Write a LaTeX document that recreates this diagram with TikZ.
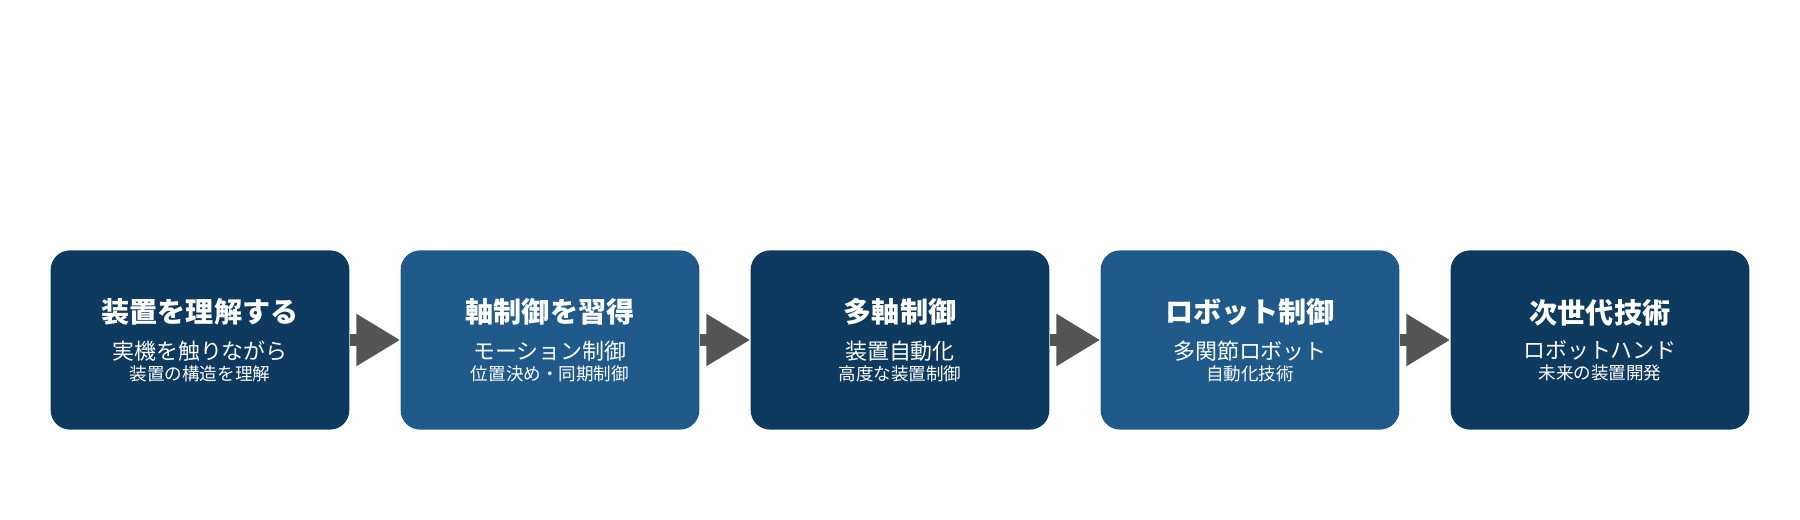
\documentclass[tikz,border=0pt]{standalone}
\usepackage{fontspec}
\newfontfamily\cjk{Noto Sans CJK JP}
\usetikzlibrary{arrows.meta,positioning}
\definecolor{stage dark}{HTML}{0F3A60}
\definecolor{stage light}{HTML}{1F5A8A}
\definecolor{stage arrow}{HTML}{555555}
\tikzset{
	stage/.style={rounded corners=11pt, minimum width=170pt, minimum height=102pt,
		inner sep=0pt, text=white, align=center, font=\cjk},
	flow/.style={stage arrow, line width=7pt,
		-{Triangle[length=25pt,width=28pt]}}
}
\newcommand{\stagetext}[3]{\fontsize{16}{20}\selectfont\bfseries #1\\[8pt]
	\fontsize{12.5}{20}\selectfont\mdseries #2\\#3}

\begin{document}
\begin{tikzpicture}[x=0.02cm,y=0.02cm]
			\useasboundingbox (0,0) rectangle (1800,-520);
			% boxes
			\node[stage, fill=stage dark] (s1) at (200,-340)
				{\stagetext{装置を理解する}{実機を触りながら}{装置の構造を理解}};
			\node[stage, fill=stage light] (s2) at (550,-340)
				{\stagetext{軸制御を習得}{モーション制御}{位置決め・同期制御}};
			\node[stage, fill=stage dark] (s3) at (900,-340)
				{\stagetext{多軸制御}{装置自動化}{高度な装置制御}};
			\node[stage, fill=stage light] (s4) at (1250,-340)
				{\stagetext{ロボット制御}{多関節ロボット}{自動化技術}};
			\node[stage, fill=stage dark] (s5) at (1600,-340)
				{\stagetext{次世代技術}{ロボットハンド}{未来の装置開発}};
			% arrows
			\foreach \a/\b in {s1/s2, s2/s3, s3/s4, s4/s5}
				\draw[flow] (\a.east) -- (\b.west);
		\end{tikzpicture}
\end{document}
